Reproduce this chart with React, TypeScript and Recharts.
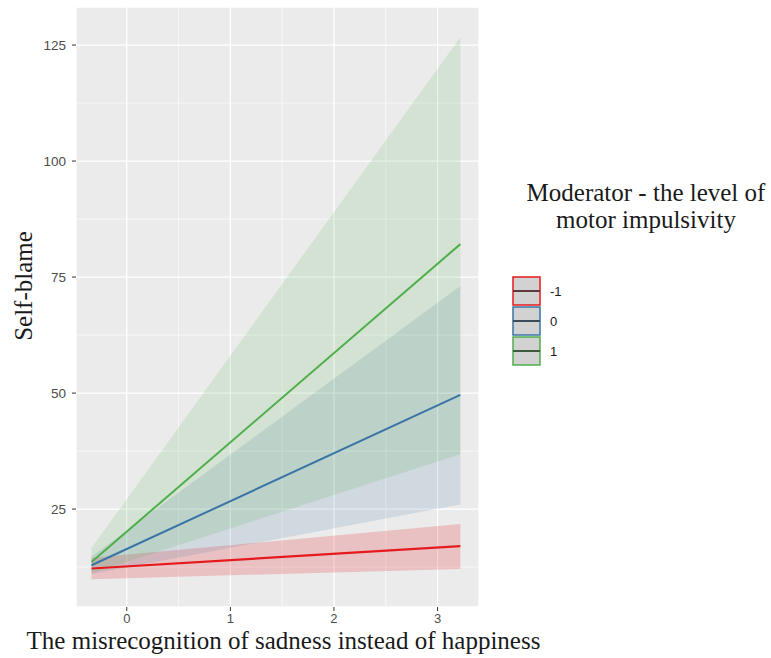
import React from "react"
import {
  ComposedChart,
  Area,
  Line,
  XAxis,
  YAxis,
  CartesianGrid,
  Legend,
  Label,
} from "recharts"

// predictor range covered by the fitted lines
const xPoints = [-0.34, 3.22]

// moderator = -1
const fitLowImp = [12.2, 17.0]
const ciLowImpLower = [9.9, 12.1]
const ciLowImpUpper = [14.5, 21.8]

// moderator = 0
const fitMidImp = [12.9, 49.6]
const ciMidImpLower = [11.0, 26.0]
const ciMidImpUpper = [14.8, 73.1]

// moderator = 1
const fitHighImp = [13.6, 82.1]
const ciHighImpLower = [11.2, 36.8]
const ciHighImpUpper = [16.6, 126.7]

const levels = ["-1", "0", "1"]
const xTicks = [0, 1, 2, 3]
const yTicks = [25, 50, 75, 100, 125]
const xMinor = [-0.5, 0.5, 1.5, 2.5]
const yMinor = [12.5, 37.5, 62.5, 87.5, 112.5]

const lineColors = ["#e41a1c", "#3a74a6", "#4daf4a"]
const keyLineColors = ["#5e3a3e", "#3c4b5c", "#3f5a3f"]
const bandOpacity = [0.2, 0.14, 0.15]

const rows = xPoints.map((x, i) => ({
  x,
  fitLow: fitLowImp[i],
  bandLow: [ciLowImpLower[i], ciLowImpUpper[i]],
  fitMid: fitMidImp[i],
  bandMid: [ciMidImpLower[i], ciMidImpUpper[i]],
  fitHigh: fitHighImp[i],
  bandHigh: [ciHighImpLower[i], ciHighImpUpper[i]],
}))

const serif = "'Liberation Serif', 'Times New Roman', serif"
const sans = "'Liberation Sans', Arial, sans-serif"

function ModeratorLegend() {
  return (
    <div style={{ fontFamily: serif, color: "#1a1a1a" }}>
      <div style={{ fontSize: 25, lineHeight: "27px", textAlign: "center", width: 268 }}>
        Moderator - the level of
        <br />
        motor impulsivity
      </div>
      <div style={{ marginTop: 43 }}>
        {levels.map((lv, i) => (
          <div key={lv} style={{ display: "flex", alignItems: "center", height: 30 }}>
            <svg width={30} height={30}>
              <rect x={1} y={1} width={27} height={28} fill="#d2d2d3" stroke={lineColors[i]} strokeWidth={1.5} />
              <line x1={1} x2={28} y1={15} y2={15} stroke={keyLineColors[i]} strokeWidth={2} />
            </svg>
            <span style={{ fontFamily: sans, fontSize: 13, marginLeft: 8, color: "#1a1a1a" }}>{lv}</span>
          </div>
        ))}
      </div>
    </div>
  )
}

export default function App() {
  return (
    <div style={{ position: "absolute", left: 0, top: 0, width: 771, height: 658, background: "#fff" }}>
      <ComposedChart
        width={771}
        height={658}
        data={rows}
        margin={{ top: 7, right: 292, bottom: 0, left: 0 }}
      >
        <CartesianGrid fill="#ebebeb" stroke="#ffffff" strokeWidth={1.3} />
        <CartesianGrid
          horizontalValues={yMinor}
          verticalValues={xMinor}
          stroke="#ffffff"
          strokeWidth={0.6}
        />
        <XAxis
          dataKey="x"
          type="number"
          domain={[-0.49, 3.4]}
          ticks={xTicks}
          allowDataOverflow
          height={51}
          axisLine={false}
          tickSize={4}
          tickMargin={3}
          tickLine={{ stroke: "#333" }}
          tick={{ fill: "#4d4d4d", fontSize: 13, fontFamily: sans }}
        >
          <Label
            content={({ viewBox }: any) => (
              <text
                x={viewBox.x + viewBox.width / 2 + 6}
                y={649}
                textAnchor="middle"
                fontFamily={serif}
                fontSize={25}
                fill="#1a1a1a"
              >
                The misrecognition of sadness instead of happiness
              </text>
            )}
          />
        </XAxis>
        <YAxis
          type="number"
          domain={[3.9, 133.2]}
          ticks={yTicks}
          allowDataOverflow
          width={76}
          axisLine={false}
          tickSize={4}
          tickMargin={6}
          tickLine={{ stroke: "#333" }}
          tick={{ fill: "#4d4d4d", fontSize: 13.5, fontFamily: sans }}
        >
          <Label
            content={() => (
              <text
                x={32}
                y={286}
                transform="rotate(-90, 32, 286)"
                textAnchor="middle"
                fontFamily={serif}
                fontSize={25}
                fill="#1a1a1a"
              >
                Self-blame
              </text>
            )}
          />
        </YAxis>

        <Area type="linear" dataKey="bandLow" stroke="none" fill={lineColors[0]} fillOpacity={bandOpacity[0]} isAnimationActive={false} />
        <Area type="linear" dataKey="bandMid" stroke="none" fill={lineColors[1]} fillOpacity={bandOpacity[1]} isAnimationActive={false} />
        <Area type="linear" dataKey="bandHigh" stroke="none" fill={lineColors[2]} fillOpacity={bandOpacity[2]} isAnimationActive={false} />

        <Line type="linear" dataKey="fitLow" stroke={lineColors[0]} strokeWidth={2.2} dot={false} isAnimationActive={false} />
        <Line type="linear" dataKey="fitMid" stroke={lineColors[1]} strokeWidth={2} dot={false} isAnimationActive={false} />
        <Line type="linear" dataKey="fitHigh" stroke={lineColors[2]} strokeWidth={2} dot={false} isAnimationActive={false} />

        <Legend
          layout="vertical"
          align="center"
          verticalAlign="middle"
          content={() => <ModeratorLegend />}
          wrapperStyle={{ position: "absolute", left: 512, top: 179, width: 268, height: "auto" }}
        />
      </ComposedChart>
    </div>
  )
}
